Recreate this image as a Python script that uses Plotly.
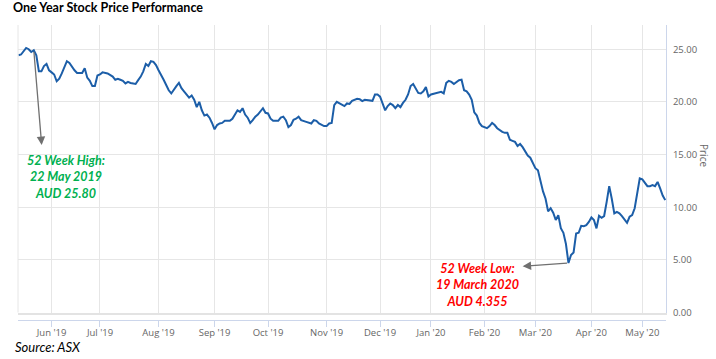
import plotly.graph_objects as go

# ---- data (trading-day index since 15 May 2019, closing price AUD) ----
day_index = [0, 1, 3, 4, 5, 6, 7, 8, 9, 10, 11, 12, 13, 14, 15, 16, 17, 18, 19, 20,
             21, 22, 23, 25, 26, 27, 28, 29, 30, 31, 32, 33, 35, 37, 38, 39, 40, 41, 42, 43,
             44, 46, 47, 48, 49, 50, 51, 52, 53, 54, 55, 56, 57, 58, 59, 60, 61, 62, 63, 64,
             65, 66, 67, 68, 69, 70, 71, 72, 73, 74, 75, 76, 77, 78, 79, 80, 81, 83, 84, 86,
             87, 88, 89, 90, 91, 92, 93, 94, 95, 96, 97, 98, 99, 100, 102, 103, 104, 105, 106, 107,
             108, 109, 110, 111, 113, 114, 115, 116, 117, 118, 120, 121, 122, 123, 124, 125, 126, 127, 128, 129,
             130, 131, 133, 134, 135, 136, 138, 139, 140, 141, 142, 143, 144, 145, 146, 147, 148, 149, 150, 151,
             152, 153, 154, 155, 156, 157, 158, 159, 160, 161, 162, 164, 165, 166, 167, 168, 169, 170, 171, 173,
             174, 175, 176, 177, 178, 179, 180, 181, 182, 183, 184, 185, 186, 187, 188, 190, 191, 192, 193, 194,
             195, 196, 197, 198, 200, 201, 202, 203, 204, 205, 206, 207, 208, 209, 210, 211, 212, 213, 214, 215,
             216, 217, 218, 219, 220, 221, 222, 223, 224, 225, 226, 227, 228, 229, 230, 231, 232, 233, 234, 235,
             236, 237, 238, 239, 240, 241, 242, 243, 244, 245, 246, 247, 248, 249, 250, 251, 252, 253, 254]
price = [24.43, 24.5, 25.12, 25.0, 24.74, 24.9, 24.43, 22.9, 22.9, 23.4, 23.6, 23.0, 22.8, 22.6, 21.96, 22.2, 22.7, 23.2, 23.86, 23.7,
         23.3, 23.0, 22.75, 22.75, 23.2, 22.3, 22.0, 21.5, 21.5, 22.5, 22.6, 22.8, 22.7, 22.4, 22.1, 22.2, 22.1, 22.0, 21.75, 21.9,
         21.8, 21.7, 22.06, 22.4, 22.9, 23.6, 23.4, 23.86, 23.8, 23.5, 23.0, 22.6, 22.1, 21.6, 21.1, 20.8, 21.2, 21.5, 21.8, 21.3,
         21.0, 20.7, 20.4, 20.6, 20.2, 19.5, 20.0, 19.2, 18.7, 18.8, 18.5, 18.0, 17.4, 17.8, 17.95, 18.0, 18.2, 18.2, 18.4, 19.2,
         19.05, 19.4, 18.8, 18.5, 18.0, 18.26, 18.6, 18.8, 19.1, 19.4, 18.96, 18.9, 18.4, 18.2, 18.2, 18.5, 18.6, 18.26, 17.6, 17.8,
         18.3, 18.4, 18.6, 18.26, 18.1, 18.05, 17.95, 18.26, 18.2, 17.95, 17.7, 17.7, 17.95, 18.0, 19.7, 20.0, 19.85, 19.7, 19.6, 19.85,
         19.8, 20.1, 20.3, 20.26, 20.07, 20.2, 20.1, 20.1, 20.7, 20.7, 20.5, 19.85, 19.2, 19.6, 19.85, 19.7, 19.4, 19.7, 19.5, 19.9,
         20.2, 20.7, 21.5, 21.7, 21.3, 20.85, 20.8, 21.0, 21.4, 20.5, 20.7, 20.8, 20.9, 20.95, 20.8, 21.8, 22.0, 21.9, 21.7, 22.06,
         22.1, 21.1, 21.0, 20.7, 20.2, 19.0, 18.7, 18.0, 17.7, 17.6, 17.5, 17.7, 18.0, 17.8, 17.5, 17.15, 17.06, 17.06, 16.4, 16.3,
         16.2, 15.8, 16.0, 15.7, 14.9, 14.7, 14.2, 13.7, 13.5, 12.4, 11.5, 10.8, 9.6, 9.9, 9.47, 8.78, 9.25, 8.0, 7.57, 6.5,
         4.7, 5.46, 5.7, 7.5, 7.57, 8.23, 8.2, 8.3, 8.6, 9.03, 8.78, 7.99, 9.18, 9.0, 9.16, 10.5, 12.0, 10.8, 9.41, 9.56,
         9.41, 9.16, 8.87, 8.52, 9.09, 9.25, 9.9, 11.3, 12.73, 12.64, 12.3, 12.0, 12.0, 12.1, 12.0, 12.4, 11.78, 11.1, 10.67]

month_tick_index = [13, 32, 55, 77, 98, 121, 142, 162, 183, 203, 225, 245]
month_tick_labels = ["Jun '19", "Jul '19", "Aug '19", "Sep '19", "Oct '19", "Nov '19",
                     "Dec '19", "Jan '20", "Feb '20", "Mar '20", "Apr '20", "May '20"]
price_ticks = [0, 5, 10, 15, 20, 25]

high_day, high_price = 6, 24.9          # 22 May 2019 on the drawn line
low_day, low_price = 216, 4.7           # 19 March 2020 on the drawn line
high_text = "52 Week High:<br>22 May 2019<br>AUD 25.80"
low_text = "52 Week Low:<br>19 March 2020<br>AUD 4.355"

W, H = 716, 359
ML, MR, MT, MB = 18, 50, 25, 39
plot_w = W - ML - MR
plot_h = H - MT - MB

fig = go.Figure()
fig.add_trace(go.Scatter(x=day_index, y=price, mode="lines",
                         line=dict(color="#1c5ea8", width=2),
                         hoverinfo="skip", showlegend=False))
# carrier trace for the lower tick axis
fig.add_trace(go.Scatter(x=day_index, y=price, mode="lines", xaxis="x2", yaxis="y",
                         line=dict(width=0), opacity=0, hoverinfo="skip", showlegend=False))

xr = [-0.2, 254.3]
tickfont = dict(family="Open Sans", size=9.5, color="#666666")
fig.update_layout(
    width=W, height=H,
    margin=dict(l=ML, r=MR, t=MT, b=MB),
    paper_bgcolor="white", plot_bgcolor="white",
    title=dict(text="<b>One Year Stock Price Performance</b>",
               font=dict(family="Lato", size=12.5, color="#000000"),
               x=13 / W, xanchor="left", xref="container",
               y=1 - 3 / H, yanchor="top", yref="container"),
    xaxis=dict(range=xr, tickvals=month_tick_index, showticklabels=False,
               showgrid=True, gridcolor="#e6e6e6", gridwidth=1,
               showline=True, linecolor="#e3e3e3", linewidth=2,
               ticks="", zeroline=False, fixedrange=True),
    xaxis2=dict(range=xr, overlaying="x", anchor="free", position=0,
                tickvals=month_tick_index, ticktext=month_tick_labels,
                showgrid=False, showline=True, linecolor="#ccd6eb", linewidth=1,
                ticks="outside", ticklen=6, tickcolor="#ccd6eb",
                tickfont=tickfont, zeroline=False, ticklabelstandoff=-2),
    yaxis=dict(domain=[7.5 / plot_h, 1], range=[0, 27.3], side="right",
               tickvals=price_ticks, tickformat=".2f",
               tickfont=tickfont, showgrid=True, gridcolor="#e6e6e6",
               showline=True, linecolor="#ccd6eb", linewidth=1,
               zeroline=False, ticks="", ticklabelstandoff=4),
)

# left border line of the plot area
fig.add_shape(type="line", xref="paper", yref="y domain", x0=0, x1=0, y0=0, y1=1,
              line=dict(color="#e6e6e6", width=1))

# axis title
fig.add_annotation(text="Price", xref="paper", yref="paper",
                   x=(704 - ML) / plot_w, y=(H - MB - 155) / plot_h,
                   xanchor="center", yanchor="middle",
                   showarrow=False, textangle=90,
                   font=dict(family="Open Sans", size=10, color="#666666"))

ann_font = dict(family="Lato", size=12.5, weight="bold", style="italic")
# high annotation
fig.add_annotation(text=high_text, x=(65.5 - ML) / plot_w, y=(H - MB - 177) / plot_h,
                   xref="paper", yref="paper", xanchor="center", yanchor="middle",
                   showarrow=False, align="center",
                   font=dict(color="#00b050", **ann_font))
fig.add_annotation(x=9.1, y=15.9, ax=high_day, ay=high_price, xref="x", yref="y",
                   axref="x", ayref="y", text="", showarrow=True, arrowhead=2,
                   arrowsize=1.3, arrowwidth=1.3, arrowcolor="#707070")
# low annotation
fig.add_annotation(text=low_text, x=(477 - ML) / plot_w, y=(H - MB - 284.5) / plot_h,
                   xref="paper", yref="paper", xanchor="center", yanchor="middle",
                   showarrow=False, align="center",
                   font=dict(color="#ff0000", **ann_font))
fig.add_annotation(x=198, y=4.38, ax=low_day, ay=low_price, xref="x", yref="y",
                   axref="x", ayref="y", text="", showarrow=True, arrowhead=2,
                   arrowsize=1.3, arrowwidth=1.3, arrowcolor="#707070")

# source
fig.add_annotation(text="<i>Source: ASX</i>", xref="paper", yref="paper",
                   x=-5 / plot_w, xanchor="left",
                   y=-(346.5 - (H - MB)) / plot_h, yanchor="middle", showarrow=False,
                   font=dict(family="Lato", size=13, color="#000000"))

fig.write_html("out.html", config={"displayModeBar": False},
               post_script="document.body.style.margin='0';document.body.style.padding='0';")
